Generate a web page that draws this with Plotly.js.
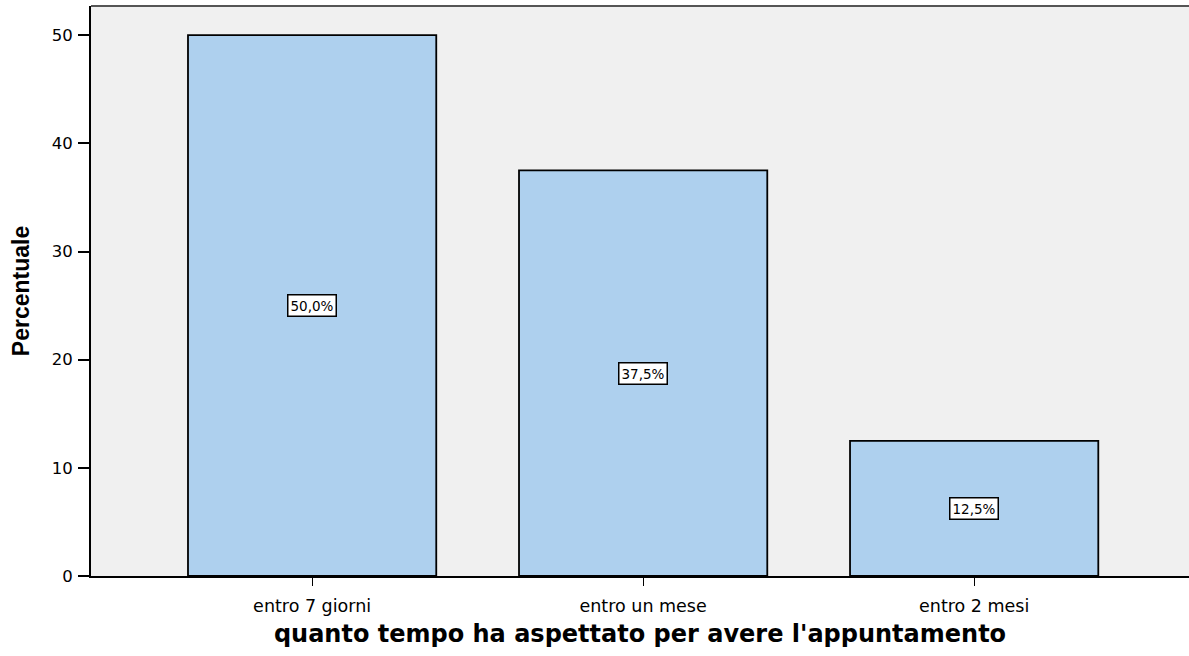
<!DOCTYPE html>
<html><head><meta charset="utf-8">
<script src="https://cdn.plot.ly/plotly-3.0.1.min.js"></script>
<style>html,body{margin:0;padding:0;background:#fff}#chart{width:1189px;height:656px}</style>
</head><body><div id="chart"></div>
<script>
const categories = ["entro 7 giorni", "entro un mese", "entro 2 mesi"];
const percentValues = [50.0, 37.5, 12.5];
const valueLabels = ["50,0%", "37,5%", "12,5%"];
const yTicks = [0, 10, 20, 30, 40, 50];

const FONT = 'DejaVu Sans, Arial, sans-serif';
const trace = {
  type: 'bar', x: categories, y: percentValues, width: 0.75,
  marker: {color: '#AED0EE', line: {color: '#000', width: 1.8}},
  hoverinfo: 'skip'
};
const annotations = categories.map((c, i) => ({
  x: c, y: percentValues[i] / 2, xref: 'x', yref: 'y', text: valueLabels[i],
  showarrow: false, bgcolor: '#fff', bordercolor: '#000', borderwidth: 1.5, borderpad: 2,
  font: {family: FONT, size: 13.5, color: '#000'}
}));
const layout = {
  width: 1189, height: 656,
  margin: {l: 91, r: 0, t: 6, b: 80},
  paper_bgcolor: '#fff', plot_bgcolor: '#F0F0F0',
  font: {family: FONT, color: '#000'},
  showlegend: false,
  xaxis: {
    range: [-0.668, 2.649], showgrid: false, zeroline: false,
    showline: true, linecolor: '#000', linewidth: 2,
    ticks: 'outside', ticklen: 8, tickcolor: '#000', tickwidth: 1,
    tickfont: {family: FONT, size: 17.5}, ticklabelstandoff: 5,
    title: {text: "quanto tempo ha aspettato per avere l'appuntamento", font: {family: FONT, size: 24, weight: 'bold'}, standoff: 10}
  },
  yaxis: {
    range: [0, 52.7], tickvals: yTicks, showgrid: false, zeroline: false,
    showline: true, linecolor: '#000', linewidth: 2,
    ticks: 'outside', ticklen: 11, tickcolor: '#000', tickwidth: 2,
    tickfont: {family: FONT, size: 16.5}, ticklabelstandoff: 2,
    title: {text: 'Percentuale', font: {family: 'Liberation Sans, Arial, sans-serif', size: 23, weight: 'bold'}, standoff: 16}
  },
  annotations: annotations,
  shapes: [{type: 'line', xref: 'paper', yref: 'paper', x0: 0, x1: 1, y0: 1, y1: 1, line: {color: '#555', width: 2}}]
};
Plotly.newPlot('chart', [trace], layout, {displayModeBar: false, staticPlot: true});
</script></body></html>
